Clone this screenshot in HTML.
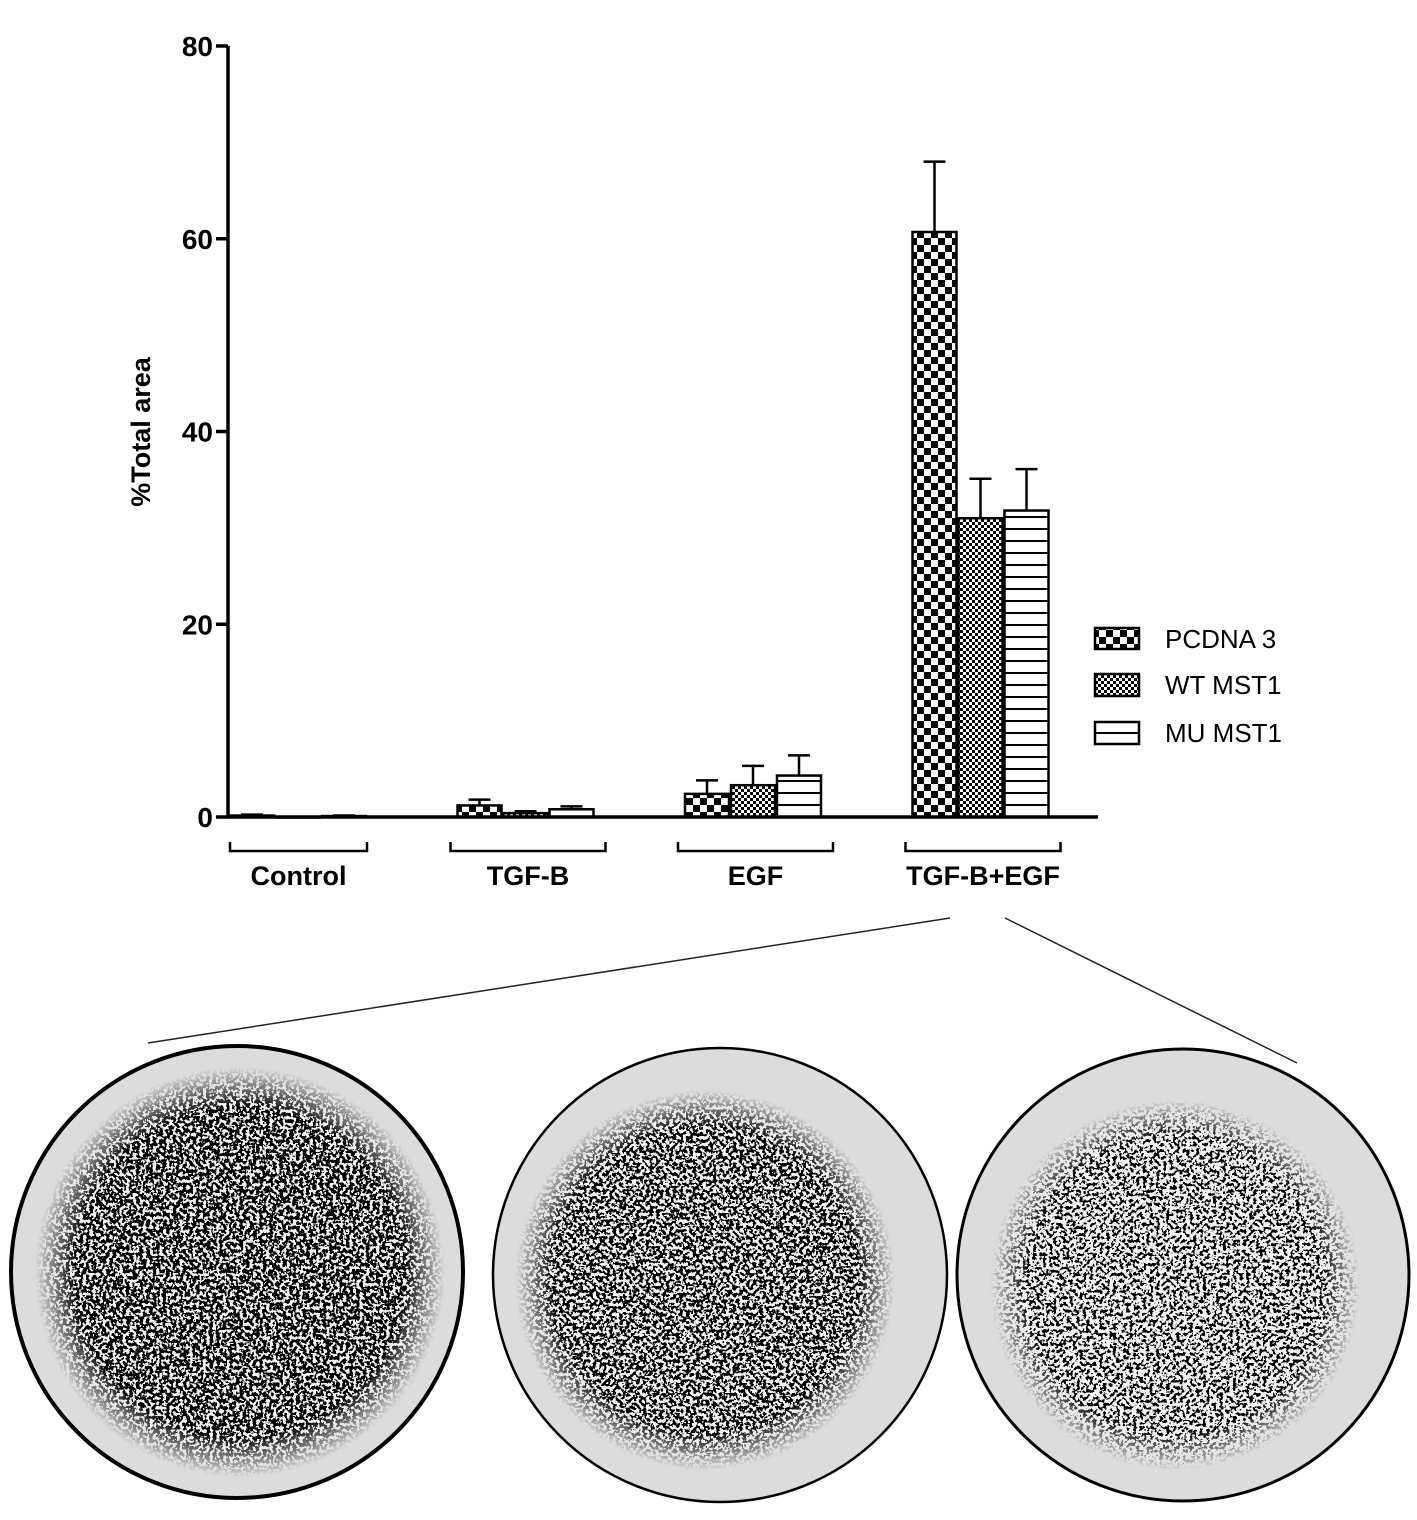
<!DOCTYPE html>
<html><head><meta charset="utf-8"><style>
html,body{margin:0;padding:0;background:#fff;}
svg{display:block;font-family:"Liberation Sans",Arial,sans-serif;}
</style></head><body>
<svg width="1417" height="1520" viewBox="0 0 1417 1520" xmlns="http://www.w3.org/2000/svg">
<defs>
<pattern id="pChk" patternUnits="userSpaceOnUse" width="14" height="14"><rect width="14" height="14" fill="#fff"/><rect width="7" height="7" fill="#000"/><rect x="7" y="7" width="7" height="7" fill="#000"/></pattern>
<pattern id="pFine" patternUnits="userSpaceOnUse" width="6" height="6"><rect width="6" height="6" fill="#fff"/><rect width="3" height="3" fill="#000"/><rect x="3" y="3" width="3" height="3" fill="#000"/></pattern>
<pattern id="pStr" patternUnits="userSpaceOnUse" width="10" height="12"><rect width="10" height="12" fill="#fff"/><rect y="0" width="10" height="2" fill="#000"/></pattern>
<filter id="sp1" x="0" y="0" width="100%" height="100%"><feTurbulence type="fractalNoise" baseFrequency="0.3" numOctaves="2" seed="3"/><feColorMatrix type="matrix" values="0 0 0 0 0 0 0 0 0 0 0 0 0 0 0 2.2 0 0 0 -0.55"/><feComponentTransfer><feFuncA type="discrete" tableValues="0 1"/></feComponentTransfer><feComposite in2="SourceGraphic" operator="in"/></filter>
<filter id="sp2" x="0" y="0" width="100%" height="100%"><feTurbulence type="fractalNoise" baseFrequency="0.3" numOctaves="2" seed="7"/><feColorMatrix type="matrix" values="0 0 0 0 0 0 0 0 0 0 0 0 0 0 0 2.2 0 0 0 -0.6"/><feComponentTransfer><feFuncA type="discrete" tableValues="0 1"/></feComponentTransfer><feComposite in2="SourceGraphic" operator="in"/></filter>
<filter id="sp3" x="0" y="0" width="100%" height="100%"><feTurbulence type="fractalNoise" baseFrequency="0.3" numOctaves="2" seed="11"/><feColorMatrix type="matrix" values="0 0 0 0 0 0 0 0 0 0 0 0 0 0 0 2.2 0 0 0 -0.68"/><feComponentTransfer><feFuncA type="discrete" tableValues="0 1"/></feComponentTransfer><feComposite in2="SourceGraphic" operator="in"/></filter>
<radialGradient id="fade"><stop offset="0.8" stop-color="#fff"/><stop offset="1" stop-color="#000"/></radialGradient>
<mask id="m1" maskContentUnits="objectBoundingBox"><circle cx="0.5" cy="0.5" r="0.5" fill="url(#fade)"/></mask>
</defs>

<g id="chart"></g>

<text x="0" y="0" transform="translate(150,432) rotate(-90)" text-anchor="middle" font-size="27" font-weight="bold">%Total area</text>

<g font-size="26">
<g><rect x="1095" y="628" width="44" height="21" fill="url(#pChk)" stroke="#000" stroke-width="2.5"/><text x="1165" y="648">PCDNA 3</text></g>
<g><rect x="1095" y="674" width="44" height="22" fill="url(#pFine)" stroke="#000" stroke-width="2.5"/><text x="1165" y="694">WT MST1</text></g>
<g><rect x="1095" y="722" width="44" height="22" fill="url(#pStr)" stroke="#000" stroke-width="2.5"/><text x="1165" y="742">MU MST1</text></g>
</g>

<g stroke="#222" stroke-width="1.5">
<line x1="950" y1="918" x2="148" y2="1043"/>
<line x1="1005" y1="918" x2="1297" y2="1063"/>
</g>

<g>
<circle cx="237" cy="1272" r="226" fill="#dcdcdc" stroke="#000" stroke-width="4"/>
<g mask="url(#m1)"><circle cx="240" cy="1272" r="205" fill="#f2f2f2"/></g>
<g mask="url(#m1)"><circle cx="240" cy="1272" r="205" fill="#000" filter="url(#sp1)"/></g>
</g>
<g>
<circle cx="720" cy="1275" r="227" fill="#dcdcdc" stroke="#000" stroke-width="2.5"/>
<g mask="url(#m1)"><circle cx="705" cy="1280" r="190" fill="#f2f2f2"/></g>
<g mask="url(#m1)"><circle cx="705" cy="1280" r="190" fill="#000" filter="url(#sp2)"/></g>
</g>
<g>
<circle cx="1183" cy="1275" r="226" fill="#dcdcdc" stroke="#000" stroke-width="3"/>
<g mask="url(#m1)"><circle cx="1175" cy="1285" r="185" fill="#f2f2f2"/></g>
<g mask="url(#m1)"><circle cx="1175" cy="1285" r="185" fill="#000" filter="url(#sp3)"/></g>
</g>
</svg>
<script>
const categories = ["Control","TGF-B","EGF","TGF-B+EGF"];
const seriesNames = ["PCDNA 3","WT MST1","MU MST1"];
const pcdna = [0.15, 1.2, 2.4, 60.7];
const wt = [0.0, 0.4, 3.3, 31.0];
const mu = [0.1, 0.8, 4.3, 31.8];
const pcdnaErr = [0.1, 0.6, 1.4, 7.3];
const wtErr = [0.0, 0.2, 2.0, 4.1];
const muErr = [0.05, 0.3, 2.1, 4.3];
const yTicks = [0, 20, 40, 60, 80];

const NS = "http://www.w3.org/2000/svg";
const g = document.getElementById("chart");
const x0 = 228, y0 = 817, yTop = 46;
const y = v => y0 - (y0 - yTop) * v / 80;
const groupX = i => 230 + i * 227.5;
const barW = 44, stride = 46;
function el(tag, attrs, parent) {
  const e = document.createElementNS(NS, tag);
  for (const k in attrs) e.setAttribute(k, attrs[k]);
  (parent || g).appendChild(e);
  return e;
}
const fills = ["url(#pChk)", "url(#pFine)", "url(#pStr)"];
const vals = [pcdna, wt, mu];
const errs = [pcdnaErr, wtErr, muErr];
const keys = ["pcdna3", "wt-mst1", "mu-mst1"];
categories.forEach((c, i) => {
  vals.forEach((arr, s) => {
    const bx = groupX(i) + s * stride;
    const top = y(arr[i]);
    const eTop = y(arr[i] + errs[s][i]);
    if (errs[s][i] > 0) {
      const ln = el("path", {d: `M${bx + barW / 2},${top} V${eTop} M${bx + barW / 2 - 11},${eTop} H${bx + barW / 2 + 11}`, stroke: "#000", "stroke-width": 2.5, fill: "none"});
      
      
    }
    const r = el("rect", {x: bx, y: top, width: barW, height: Math.max(y0 - top, 0.5), fill: fills[s], stroke: "#000", "stroke-width": 2.5});
    
    
  });
  const gx = groupX(i) - (i > 0 ? 7 : 0);
  const bw = i > 0 ? 155 : 137;
  const br = el("path", {d: `M${gx},${842} V${851} H${gx + bw} V${842}`, stroke: "#000", "stroke-width": 2.5, fill: "none"});
  
  
  const t = el("text", {x: gx + bw / 2, y: 885, "text-anchor": "middle", "font-size": 27, "font-weight": "bold"});
  t.textContent = c;
  
  
});
const ax = el("path", {d: `M${x0},${yTop} V${y0} H1098`, stroke: "#000", "stroke-width": 3.5, fill: "none"});


yTicks.forEach(v => {
  const tk = el("line", {x1: x0 - 12, x2: x0, y1: y(v), y2: y(v), stroke: "#000", "stroke-width": 3.5});
  
  
  const tl = el("text", {x: x0 - 15, y: y(v) + 10, "text-anchor": "end", "font-size": 28, "font-weight": "bold"});
  tl.textContent = v;
  
  
});
</script>
</body></html>
